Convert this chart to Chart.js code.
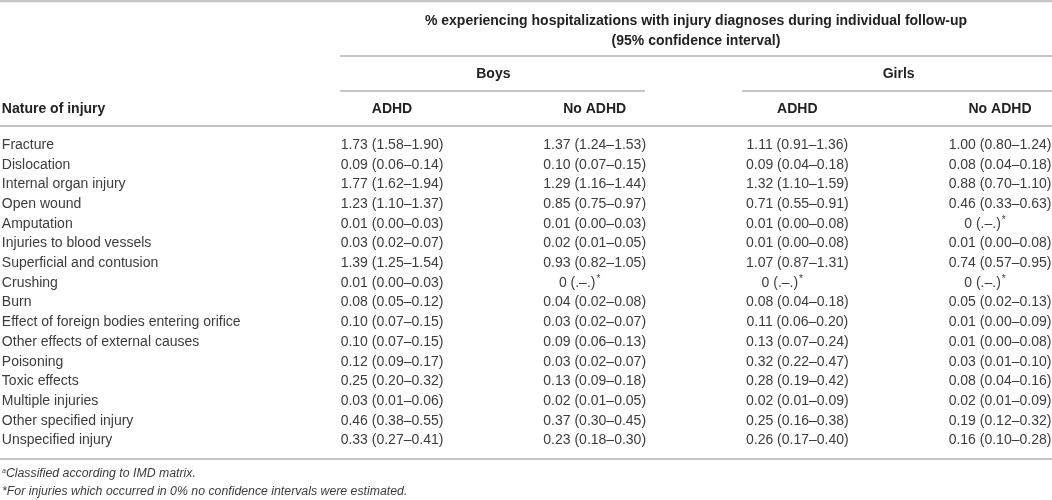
<!DOCTYPE html>
<html>
<head>
<meta charset="utf-8">
<title>Injury hospitalizations by ADHD status</title>
<script src="https://cdn.jsdelivr.net/npm/chart.js@4.4.1/dist/chart.umd.min.js"></script>
<style>
  html, body { margin: 0; padding: 0; background: #fff; }
  #wrap { width: 1052px; height: 500px; position: relative; }
</style>
</head>
<body>
<div id="wrap"><canvas id="table"></canvas></div>
<script>
// Table content
var injuries = [
    'Fracture', 'Dislocation', 'Internal organ injury', 'Open wound', 'Amputation',
    'Injuries to blood vessels', 'Superficial and contusion', 'Crushing', 'Burn',
    'Effect of foreign bodies entering orifice', 'Other effects of external causes',
    'Poisoning', 'Toxic effects', 'Multiple injuries', 'Other specified injury',
    'Unspecified injury'
];
var boysAdhd = [
    '1.73 (1.58–1.90)', '0.09 (0.06–0.14)', '1.77 (1.62–1.94)', '1.23 (1.10–1.37)',
    '0.01 (0.00–0.03)', '0.03 (0.02–0.07)', '1.39 (1.25–1.54)', '0.01 (0.00–0.03)',
    '0.08 (0.05–0.12)', '0.10 (0.07–0.15)', '0.10 (0.07–0.15)', '0.12 (0.09–0.17)',
    '0.25 (0.20–0.32)', '0.03 (0.01–0.06)', '0.46 (0.38–0.55)', '0.33 (0.27–0.41)'
];
var boysNoAdhd = [
    '1.37 (1.24–1.53)', '0.10 (0.07–0.15)', '1.29 (1.16–1.44)', '0.85 (0.75–0.97)',
    '0.01 (0.00–0.03)', '0.02 (0.01–0.05)', '0.93 (0.82–1.05)', '0 (.–.)*',
    '0.04 (0.02–0.08)', '0.03 (0.02–0.07)', '0.09 (0.06–0.13)', '0.03 (0.02–0.07)',
    '0.13 (0.09–0.18)', '0.02 (0.01–0.05)', '0.37 (0.30–0.45)', '0.23 (0.18–0.30)'
];
var girlsAdhd = [
    '1.11 (0.91–1.36)', '0.09 (0.04–0.18)', '1.32 (1.10–1.59)', '0.71 (0.55–0.91)',
    '0.01 (0.00–0.08)', '0.01 (0.00–0.08)', '1.07 (0.87–1.31)', '0 (.–.)*',
    '0.08 (0.04–0.18)', '0.11 (0.06–0.20)', '0.13 (0.07–0.24)', '0.32 (0.22–0.47)',
    '0.28 (0.19–0.42)', '0.02 (0.01–0.09)', '0.25 (0.16–0.38)', '0.26 (0.17–0.40)'
];
var girlsNoAdhd = [
    '1.00 (0.80–1.24)', '0.08 (0.04–0.18)', '0.88 (0.70–1.10)', '0.46 (0.33–0.63)',
    '0 (.–.)*', '0.01 (0.00–0.08)', '0.74 (0.57–0.95)', '0 (.–.)*',
    '0.05 (0.02–0.13)', '0.01 (0.00–0.09)', '0.01 (0.00–0.08)', '0.03 (0.01–0.10)',
    '0.08 (0.04–0.16)', '0.02 (0.01–0.09)', '0.19 (0.12–0.32)', '0.16 (0.10–0.28)'
];
var titleLines = [
    '% experiencing hospitalizations with injury diagnoses during individual follow-up',
    '(95% confidence interval)'
];
var groupLabels = ['Boys', 'Girls'];
var columnLabels = ['ADHD', 'No ADHD', 'ADHD', 'No ADHD'];
var rowHeader = 'Nature of injury';
var footnotes = [
    { mark: 'a', text: 'Classified according to IMD matrix.' },
    { mark: '', text: '*For injuries which occurred in 0% no confidence intervals were estimated.' }
];

var columns = [boysAdhd, boysNoAdhd, girlsAdhd, girlsNoAdhd];

var FONT = '"Liberation Sans", Arial, Helvetica, sans-serif';
var TEXT = '#3c3c3c';
var HEAD = '#222';
var RULE = '#c6c6c6';

// Cells are points on a linear x (column index) / y (row index) grid
var datasets = [{
    label: 'rows',
    data: injuries.map(function(name, r) { return { x: -0.925, y: r, text: name }; }),
    align: 'left'
}];
columns.forEach(function(col, c) {
    datasets.push({
        label: columnLabels[c],
        data: col.map(function(v, r) { return { x: c + 1, y: r, text: v }; }),
        align: 'center'
    });
});
datasets.forEach(function(ds) { ds.pointRadius = 0; ds.pointHoverRadius = 0; });

function rule(ctx, x1, x2, y, w) {
    ctx.save();
    ctx.strokeStyle = RULE;
    ctx.lineWidth = w || 2;
    ctx.beginPath();
    ctx.moveTo(x1, y);
    ctx.lineTo(x2, y);
    ctx.stroke();
    ctx.restore();
}

var tablePlugin = {
    id: 'tableText',
    afterDatasetsDraw: function(chart) {
        var ctx = chart.ctx;
        var xs = chart.scales.x;
        var area = chart.chartArea;
        ctx.save();
        ctx.textBaseline = 'middle';

        // rules
        rule(ctx, 0, area.right, 1, 2.5);
        rule(ctx, 340, area.right, 56, 2);
        rule(ctx, 340, 645, 91, 2);
        rule(ctx, 742, area.right, 91, 2);
        rule(ctx, 0, area.right, 126, 2);
        rule(ctx, 0, area.right, 459, 2);

        // header
        ctx.fillStyle = HEAD;
        ctx.font = 'bold 14px ' + FONT;
        ctx.textAlign = 'center';
        var titleX = (xs.getPixelForValue(1) + xs.getPixelForValue(4)) / 2;
        ctx.fillText(titleLines[0], titleX, 21);
        ctx.fillText(titleLines[1], titleX, 41);
        groupLabels.forEach(function(g, i) {
            var gx = (xs.getPixelForValue(1 + 2 * i) + xs.getPixelForValue(2 + 2 * i)) / 2;
            ctx.fillText(g, gx, 74);
        });
        columnLabels.forEach(function(lbl, i) {
            ctx.fillText(lbl, xs.getPixelForValue(i + 1), 109);
        });
        ctx.textAlign = 'left';
        ctx.fillText(rowHeader, xs.getPixelForValue(-0.925), 109);

        // body cells
        ctx.font = '14px ' + FONT;
        ctx.fillStyle = TEXT;
        chart.data.datasets.forEach(function(ds, di) {
            var meta = chart.getDatasetMeta(di);
            meta.data.forEach(function(pt, i) {
                var txt = ds.data[i].text;
                if (txt.indexOf('*') > 0) {
                    // zero cell with a raised asterisk
                    var base = txt.replace('*', '');
                    ctx.font = '14px ' + FONT;
                    var w = ctx.measureText(base).width;
                    var left = pt.x - 15 - (w + 5) / 2;
                    ctx.textAlign = 'left';
                    ctx.fillText(base, left, pt.y);
                    ctx.font = '10px ' + FONT;
                    ctx.fillText('*', left + w + 1, pt.y - 4);
                    ctx.font = '14px ' + FONT;
                    return;
                }
                ctx.textAlign = ds.align;
                ctx.fillText(txt, pt.x, pt.y);
            });
        });

        // footnotes
        ctx.textAlign = 'left';
        ctx.fillStyle = TEXT;
        footnotes.forEach(function(f, i) {
            var fy = 474 + i * 18;
            var fx = 2;
            if (f.mark) {
                ctx.font = 'italic 7px ' + FONT;
                ctx.fillText(f.mark, fx, fy - 3);
                fx += ctx.measureText(f.mark).width;
            }
            ctx.font = 'italic 12.3px ' + FONT;
            ctx.fillText(f.text, fx, fy);
        });
        ctx.restore();
    }
};

var colStep = 202.67;
var col1 = 392;
var rowStep = 19.7;
var row0 = 145;

new Chart(document.getElementById('table').getContext('2d'), {
    type: 'scatter',
    data: { datasets: datasets },
    options: {
        responsive: true,
        maintainAspectRatio: false,
        animation: false,
        events: [],
        layout: { padding: 0 },
        plugins: { legend: { display: false }, tooltip: { enabled: false } },
        scales: {
            x: { type: 'linear', display: false, min: 1 - col1 / colStep, max: 1 + (1052 - col1) / colStep },
            y: { type: 'linear', display: false, reverse: true, min: -row0 / rowStep, max: (500 - row0) / rowStep }
        }
    },
    plugins: [tablePlugin]
});
</script>
</body>
</html>
